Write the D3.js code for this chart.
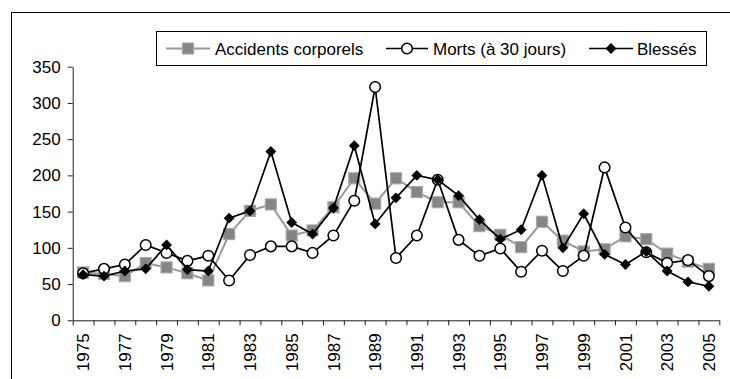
<!DOCTYPE html>
<html>
<head>
<meta charset="utf-8">
<script src="https://cdn.jsdelivr.net/npm/d3@7/dist/d3.min.js"></script>
<style>
  html, body { margin: 0; padding: 0; background: #fff; }
  svg { display: block; }
  text { font-family: "Liberation Sans", Arial, sans-serif; fill: #000; }
</style>
</head>
<body>
<svg id="chart" width="730" height="379"></svg>
<script>
// Years on the category axis
const years = d3.range(1975, 2006);

// Series values (base-100 style indices)
const accidents = [66, 64, 61, 79, 73, 65, 55, 119, 151, 160, 117, 124, 156, 196, 161, 196,
                   177, 163, 163, 130, 118, 101, 136, 110, 95, 98, 116, 112, 92, 81, 71];
const morts     = [65, 71, 77, 104, 93, 82, 89, 55, 90, 102, 102, 93, 117, 165, 322, 86,
                   117, 194, 111, 89, 99, 67, 96, 68, 89, 211, 128, 94, 79, 83, 61];
const blesses   = [63, 61, 68, 71, 104, 70, 68, 141, 151, 233, 135, 119, 155, 241, 133, 169,
                   200, 194, 172, 139, 112, 125, 200, 100, 147, 91, 77, 95, 68, 53, 47];

// Axis ticks and labels
const yTicks = [0, 50, 100, 150, 200, 250, 300, 350];
const xLabels = years.filter(y => (y - 1975) % 2 === 0);

const seriesNames = ["Accidents corporels", "Morts (à 30 jours)", "Blessés"];

const svg = d3.select("#chart");

// Outer chart frame (runs off the right and bottom edges)
svg.append("rect")
  .attr("x", 11.5).attr("y", 12.5)
  .attr("width", 740).attr("height", 400)
  .attr("fill", "none").attr("stroke", "#000").attr("stroke-width", 1);

const plot = { left: 72.7, right: 719.3, top: 66.7, bottom: 320.3 };

const x = d3.scaleBand().domain(years).range([plot.left, plot.right]).padding(0);
const xEdge = d3.scaleLinear().domain([0, years.length]).range([plot.left, plot.right]);
const y = d3.scaleLinear().domain([0, 350]).range([plot.bottom, plot.top]);
const cx = yr => x(yr) + x.bandwidth() / 2;

// Y axis
const yAxis = svg.append("g")
  .attr("transform", `translate(${plot.left},0)`)
  .call(d3.axisLeft(y).tickValues(yTicks).tickSize(5).tickPadding(7).tickSizeOuter(0));
yAxis.selectAll("text").style("font-size", "17px")
  .style("font-family", "'Liberation Sans', Arial, sans-serif").attr("fill", "#000");
yAxis.selectAll("line, path").attr("stroke", "#222");

// X axis: line and tick marks on category boundaries
const xAxis = svg.append("g")
  .attr("transform", `translate(0,${plot.bottom})`)
  .call(d3.axisBottom(xEdge).tickValues(d3.range(years.length + 1)).tickFormat("").tickSize(5).tickSizeOuter(0));
xAxis.selectAll("line, path").attr("stroke", "#222");

// X labels, rotated, every other year
svg.append("g").selectAll("text")
  .data(xLabels)
  .join("text")
  .attr("transform", d => `translate(${cx(d)},${plot.bottom + 13}) rotate(-90)`)
  .attr("text-anchor", "end")
  .attr("dy", "0.36em")
  .style("font-size", "17px")
  .text(d => d);

const line = d3.line().x((d, i) => cx(years[i])).y(d => y(d));

// Accidents corporels: grey line with grey squares
const gA = svg.append("g");
gA.append("path").datum(accidents).attr("d", line)
  .attr("fill", "none").attr("stroke", "#999").attr("stroke-width", 2);
gA.selectAll("rect").data(accidents).join("rect")
  .attr("x", (d, i) => cx(years[i]) - 5.5).attr("y", d => y(d) - 5.5)
  .attr("width", 11).attr("height", 11)
  .attr("fill", "#858585").attr("stroke", "#a6a6a6").attr("stroke-width", 1.2);

// Morts: black line with open circles
const gM = svg.append("g");
gM.append("path").datum(morts).attr("d", line)
  .attr("fill", "none").attr("stroke", "#000").attr("stroke-width", 1.7);
gM.selectAll("circle").data(morts).join("circle")
  .attr("cx", (d, i) => cx(years[i])).attr("cy", d => y(d)).attr("r", 5.3)
  .attr("fill", "#fff").attr("stroke", "#000").attr("stroke-width", 1.5);

// Blessés: black line with filled diamonds
const diamond = d3.symbol().type(d3.symbolDiamond2).size(75);
const gB = svg.append("g");
gB.append("path").datum(blesses).attr("d", line)
  .attr("fill", "none").attr("stroke", "#000").attr("stroke-width", 1.7);
gB.selectAll("path.mk").data(blesses).join("path").attr("class", "mk")
  .attr("d", diamond)
  .attr("transform", (d, i) => `translate(${cx(years[i])},${y(d)})`)
  .attr("fill", "#000");

// Legend
const legend = svg.append("g");
legend.append("rect")
  .attr("x", 156.5).attr("y", 31.5).attr("width", 550).attr("height", 34)
  .attr("fill", "#fff").attr("stroke", "#000").attr("stroke-width", 1);

const ly = 48.5;
const entries = [
  { x0: 166, x1: 210, tx: 215, name: seriesNames[0], kind: "square" },
  { x0: 386, x1: 428, tx: 433, name: seriesNames[1], kind: "circle" },
  { x0: 589, x1: 633, tx: 637, name: seriesNames[2], kind: "diamond" }
];
entries.forEach(e => {
  const mid = (e.x0 + e.x1) / 2;
  if (e.kind === "square") {
    legend.append("line").attr("x1", e.x0).attr("x2", e.x1).attr("y1", ly).attr("y2", ly)
      .attr("stroke", "#999").attr("stroke-width", 2);
    legend.append("rect").attr("x", mid - 5.5).attr("y", ly - 5.5).attr("width", 11).attr("height", 11)
      .attr("fill", "#858585").attr("stroke", "#a6a6a6").attr("stroke-width", 1.2);
  } else if (e.kind === "circle") {
    legend.append("line").attr("x1", e.x0).attr("x2", e.x1).attr("y1", ly).attr("y2", ly)
      .attr("stroke", "#000").attr("stroke-width", 1.7);
    legend.append("circle").attr("cx", mid).attr("cy", ly).attr("r", 5.3)
      .attr("fill", "#fff").attr("stroke", "#000").attr("stroke-width", 1.5);
  } else {
    legend.append("line").attr("x1", e.x0).attr("x2", e.x1).attr("y1", ly).attr("y2", ly)
      .attr("stroke", "#000").attr("stroke-width", 1.7);
    legend.append("path").attr("d", diamond).attr("transform", `translate(${mid},${ly})`)
      .attr("fill", "#000");
  }
  legend.append("text").attr("x", e.tx).attr("y", ly).attr("dy", "0.36em")
    .style("font-size", "17px").text(e.name);
});
</script>
</body>
</html>
